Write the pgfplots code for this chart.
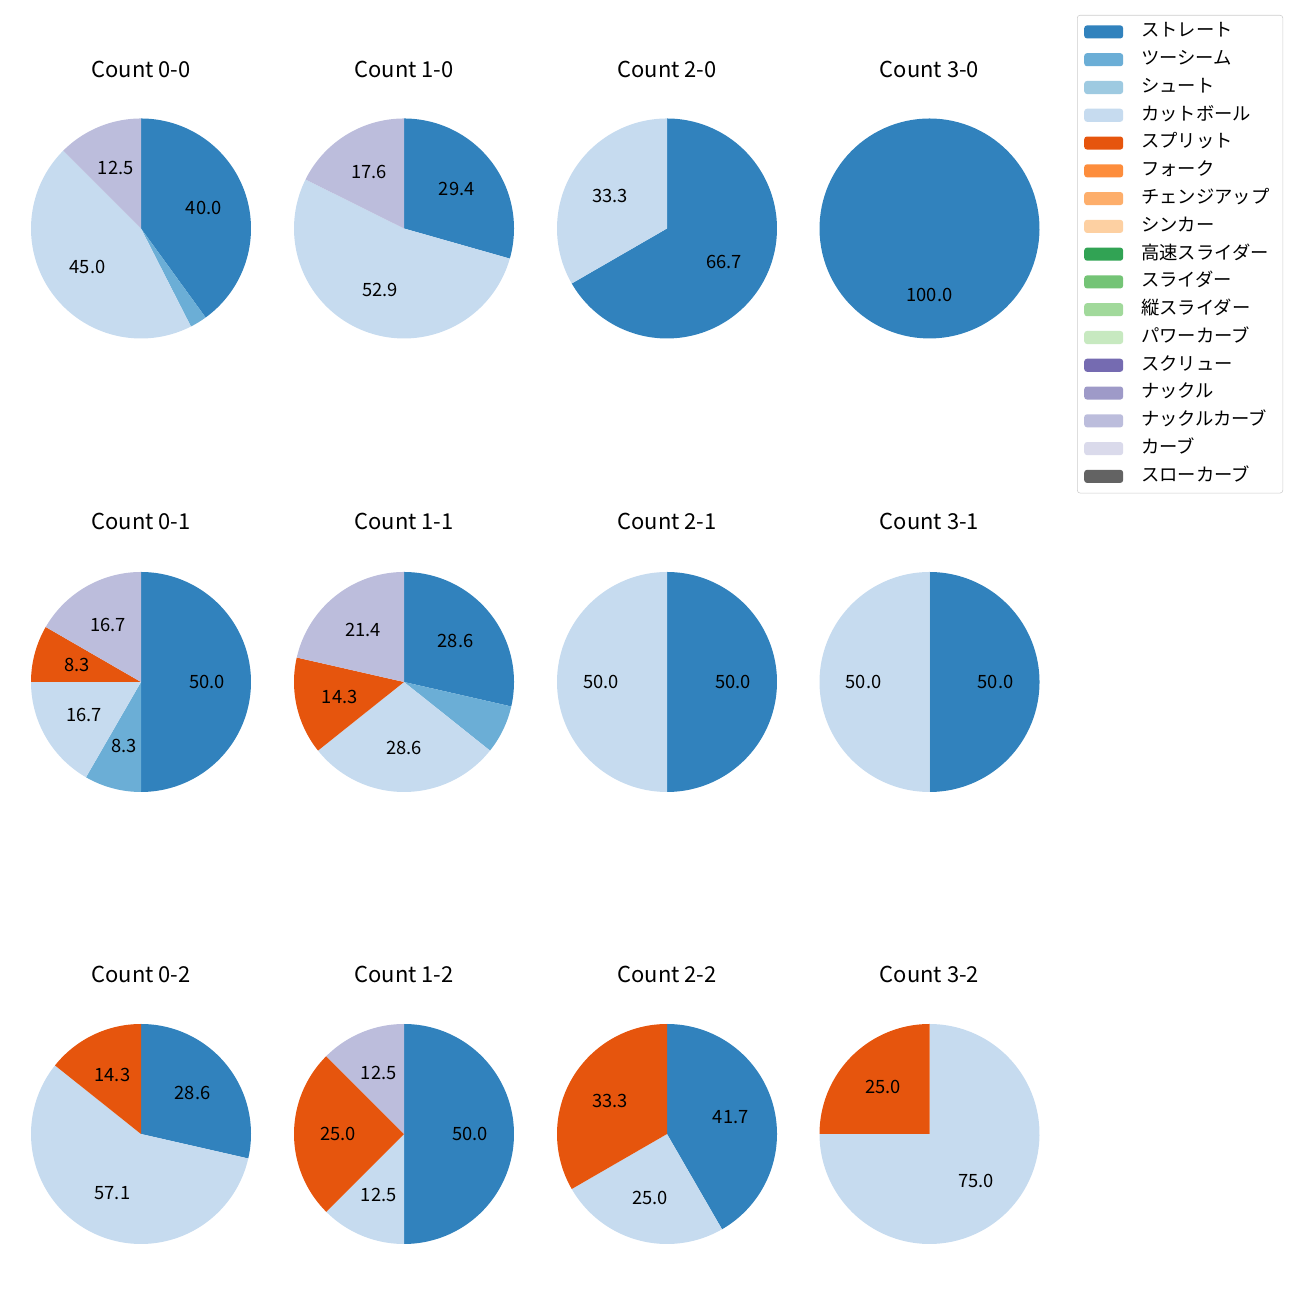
\documentclass[border=0pt]{standalone}
\usepackage{fontspec}
\setmainfont{Noto Sans CJK JP}
\usepackage{pgfplots}
\pgfplotsset{compat=1.18}

\definecolor{cST}{HTML}{3182BD}% ストレート
\definecolor{cTS}{HTML}{6BAED6}% ツーシーム
\definecolor{cSH}{HTML}{9ECAE1}% シュート
\definecolor{cCT}{HTML}{C6DBEF}% カットボール
\definecolor{cSP}{HTML}{E6550D}% スプリット
\definecolor{cFK}{HTML}{FD8D3C}% フォーク
\definecolor{cCH}{HTML}{FDAE6B}% チェンジアップ
\definecolor{cSI}{HTML}{FDD0A2}% シンカー
\definecolor{cHS}{HTML}{31A354}% 高速スライダー
\definecolor{cSL}{HTML}{74C476}% スライダー
\definecolor{cVS}{HTML}{A1D99B}% 縦スライダー
\definecolor{cPC}{HTML}{C7E9C0}% パワーカーブ
\definecolor{cSC}{HTML}{756BB1}% スクリュー
\definecolor{cKN}{HTML}{9E9AC8}% ナックル
\definecolor{cKC}{HTML}{BCBDDC}% ナックルカーブ
\definecolor{cCV}{HTML}{DADAEB}% カーブ
\definecolor{cSW}{HTML}{636363}% スローカーブ

\newcommand\lblfont{\fontsize{13.2pt}{15.8pt}\selectfont}
\newcommand\ttlfont{\fontsize{15.8pt}{19pt}\selectfont}

% #1 = centre x, #2 = centre y (pixels), #3 = list value/colour (percent, clockwise from top)
\newcommand\drawpie[3]{%
  \xdef\cum{0}%
  \foreach \v/\c in {#3} {%
    \pgfmathsetmacro\aone{90-3.6*\cum}%
    \pgfmathsetmacro\atwo{90-3.6*(\cum+\v)}%
    \pgfmathsetmacro\amid{(\aone+\atwo)/2}%
    \pgfmathsetmacro\lx{#1+0.6*110*cos(\amid)}%
    \pgfmathsetmacro\ly{#2+0.6*110*sin(\amid)}%
    \edef\tmp{\noexpand\addplot[forget plot, fill=\c, draw=none, domain=\atwo:\aone, samples=120] ({#1+110*cos(x)},{#2+110*sin(x)}) -- (axis cs:#1,#2) -- cycle;}%
    \tmp
    \pgfmathtruncatemacro\showlbl{\v>=8}%
    \ifnum\showlbl=1
      \edef\tmp{\noexpand\node[font=\noexpand\lblfont] at (axis cs:\lx,\ly) {\noexpand\pgfmathprintnumber[fixed,fixed zerofill,precision=1,assume math mode=true]{\v}};}%
      \tmp
    \fi
    \pgfmathsetmacro\newcum{\cum+\v}%
    \xdef\cum{\newcum}%
  }%
}

\begin{document}
\begin{tikzpicture}
\useasboundingbox (0pt,0pt) rectangle (936pt,936pt);
\begin{axis}[
  at={(0pt,0pt)}, anchor=origin,
  x=0.72pt, y=0.72pt,
  xmin=0, xmax=1300, ymin=0, ymax=1300,
  hide axis, clip=false,
  legend image code/.code={\fill[#1, draw=none] (0pt,-4.7pt) rectangle (28pt,4.7pt);},
  legend cell align=left,
  legend style={
    at={(0.82846,0.98846)}, anchor=north west,
    draw=black!20, fill=white, rounded corners=2pt,
    font=\lblfont,
    inner xsep=5pt, inner ysep=5.5pt,
    row sep=7pt,
    nodes={inner sep=0pt, text height=10pt, text depth=3pt, text width=97pt},
    /tikz/every odd column/.append style={column sep=13pt},
  },
]
\addlegendimage{fill=cST}\addlegendentry{ストレート}
\addlegendimage{fill=cTS}\addlegendentry{ツーシーム}
\addlegendimage{fill=cSH}\addlegendentry{シュート}
\addlegendimage{fill=cCT}\addlegendentry{カットボール}
\addlegendimage{fill=cSP}\addlegendentry{スプリット}
\addlegendimage{fill=cFK}\addlegendentry{フォーク}
\addlegendimage{fill=cCH}\addlegendentry{チェンジアップ}
\addlegendimage{fill=cSI}\addlegendentry{シンカー}
\addlegendimage{fill=cHS}\addlegendentry{高速スライダー}
\addlegendimage{fill=cSL}\addlegendentry{スライダー}
\addlegendimage{fill=cVS}\addlegendentry{縦スライダー}
\addlegendimage{fill=cPC}\addlegendentry{パワーカーブ}
\addlegendimage{fill=cSC}\addlegendentry{スクリュー}
\addlegendimage{fill=cKN}\addlegendentry{ナックル}
\addlegendimage{fill=cKC}\addlegendentry{ナックルカーブ}
\addlegendimage{fill=cCV}\addlegendentry{カーブ}
\addlegendimage{fill=cSW}\addlegendentry{スローカーブ}

% Row 1
\drawpie{141}{1071.5}{40/cST, 2.5/cTS, 45/cCT, 12.5/cKC}
\drawpie{404}{1071.5}{29.412/cST, 52.941/cCT, 17.647/cKC}
\drawpie{667}{1071.5}{66.667/cST, 33.333/cCT}
\drawpie{929.5}{1071.5}{100/cST}
% Row 2
\drawpie{141}{618}{50/cST, 8.333/cTS, 16.667/cCT, 8.333/cSP, 16.667/cKC}
\drawpie{404}{618}{28.571/cST, 7.143/cTS, 28.571/cCT, 14.286/cSP, 21.429/cKC}
\drawpie{667}{618}{50/cST, 50/cCT}
\drawpie{929.5}{618}{50/cST, 50/cCT}
% Row 3
\drawpie{141}{166}{28.571/cST, 57.143/cCT, 14.286/cSP}
\drawpie{404}{166}{50/cST, 12.5/cCT, 25/cSP, 12.5/cKC}
\drawpie{667}{166}{41.667/cST, 25/cCT, 33.333/cSP}
\drawpie{929.5}{166}{75/cCT, 25/cSP}

% Titles
\node[font=\ttlfont] at (axis cs:141,1231) {Count 0-0};
\node[font=\ttlfont] at (axis cs:404,1231) {Count 1-0};
\node[font=\ttlfont] at (axis cs:667,1231) {Count 2-0};
\node[font=\ttlfont] at (axis cs:929.5,1231) {Count 3-0};
\node[font=\ttlfont] at (axis cs:141,779) {Count 0-1};
\node[font=\ttlfont] at (axis cs:404,779) {Count 1-1};
\node[font=\ttlfont] at (axis cs:667,779) {Count 2-1};
\node[font=\ttlfont] at (axis cs:929.5,779) {Count 3-1};
\node[font=\ttlfont] at (axis cs:141,326) {Count 0-2};
\node[font=\ttlfont] at (axis cs:404,326) {Count 1-2};
\node[font=\ttlfont] at (axis cs:667,326) {Count 2-2};
\node[font=\ttlfont] at (axis cs:929.5,326) {Count 3-2};
\end{axis}
\end{tikzpicture}
\end{document}
